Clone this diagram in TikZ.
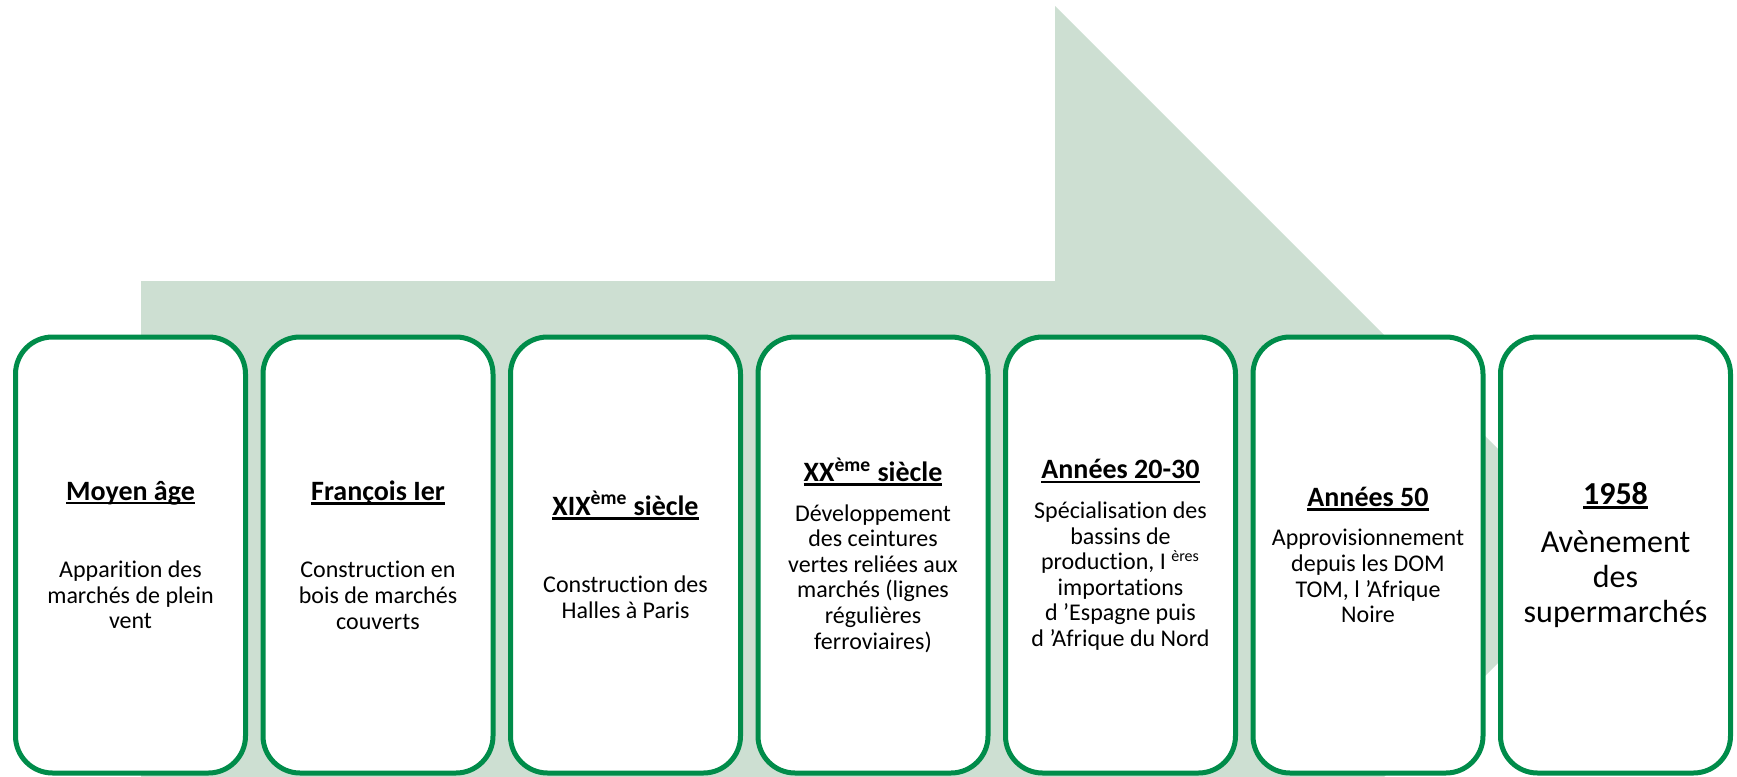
\documentclass[tikz,border=0pt]{standalone}
\usepackage{fontspec}
\setmainfont{Carlito}[Ligatures=NoCommon]
\usepackage{tikz}
\usetikzlibrary{positioning}
\definecolor{boxgreen}{HTML}{008C4A}
\definecolor{arrowgreen}{HTML}{CDDFD2}
\newcommand{\periodtitle}[2][14]{{\fontsize{#1}{#1}\selectfont\bfseries\setbox0\hbox{#2}\rlap{\rule[-2.1pt]{\wd0}{1.2pt}}\box0}}
\tikzstyle{period} = [rectangle, rounded corners=18.5pt, draw=boxgreen, line width=2.5pt, fill=white, minimum width=115pt, minimum height=218pt, inner sep=2pt, text centered, font=\fontsize{12}{12.8}\selectfont]
\tikzstyle{bigarrow} = [fill=arrowgreen]

\begin{document}
\begin{tikzpicture}[x=0.5pt, y=-0.5pt, node distance=123.75pt, align=center]
  \useasboundingbox (0,0) rectangle (1737,777);
  %grande fleche en fond
  \fill [bigarrow] (141,281) -- (1055,281) -- (1055,6) -- (1605,556) -- (1384,777) -- (141,777) -- cycle;

  %periodes
  \node (moyen) [period] at (130.5,555) {\periodtitle{Moyen âge}\\[26pt] Apparition des\\marchés de plein\\vent};
  \node (francois) [period, right of=moyen] {\periodtitle{François Ier}\\[26pt] Construction en\\bois de marchés\\couverts};
  \node (xix) [period, right of=francois] {\periodtitle{XIX\textsuperscript{ème} siècle}\\[26pt] Construction des\\Halles à Paris};
  \node (xx) [period, right of=xix] {\periodtitle{XX\textsuperscript{ème} siècle}\\[7pt] Développement\\des ceintures\\vertes reliées aux\\marchés (lignes\\régulières\\ferroviaires)};
  \node (vingt) [period, right of=xx] {\periodtitle{Années 20-30}\\[7pt] Spécialisation des\\bassins de\\production, I \textsuperscript{ères}\\importations\\d ’Espagne puis\\d ’Afrique du Nord};
  \node (cinquante) [period, right of=vingt] {\periodtitle{Années 50}\\[7pt] Approvisionnement\\depuis les DOM\\TOM, l ’Afrique\\Noire};
  \node (super) [period, right of=cinquante, font=\fontsize{16}{17.5}\selectfont] {\periodtitle[16]{1958}\\[6.5pt] Avènement\\des\\supermarchés};
\end{tikzpicture}
\end{document}
